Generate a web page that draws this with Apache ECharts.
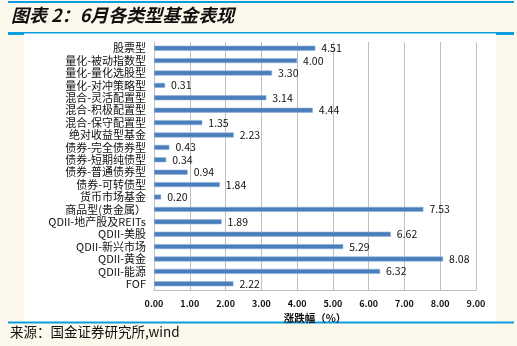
<!DOCTYPE html>
<html>
<head>
<meta charset="utf-8">
<script src="https://cdn.jsdelivr.net/npm/echarts@6/dist/echarts.min.js"></script>
<style>
  html, body { margin: 0; padding: 0; background: #fdf8ec; }
  #chart { width: 517px; height: 346px; }
</style>
</head>
<body>
<div id="chart"></div>
<script>
// Fund categories, listed top to bottom
const categories = [
  '股票型', '量化-被动指数型', '量化-量化选股型', '量化-对冲策略型',
  '混合-灵活配置型', '混合-积极配置型', '混合-保守配置型', '绝对收益型基金',
  '债券-完全债券型', '债券-短期纯债型', '债券-普通债券型', '债券-可转债型',
  '货币市场基金', '商品型(贵金属）', 'QDII-地产股及REITs', 'QDII-美股',
  'QDII-新兴市场', 'QDII-黄金', 'QDII-能源', 'FOF'
];
// June returns (%)
const returns = [
  4.51, 4.00, 3.30, 0.31,
  3.14, 4.44, 1.35, 2.23,
  0.43, 0.34, 0.94, 1.84,
  0.20, 7.53, 1.89, 6.62,
  5.29, 8.08, 6.32, 2.22
];
const xMin = 0, xMax = 9, xStep = 1;

const titleText = '图表 2：6月各类型基金表现';
const sourceText = '来源：国金证券研究所,wind';
const axisTitle = '涨跌幅（%）';

const blue = '#0a9ee0';
const font = '"Noto Sans CJK SC", "Noto Sans", sans-serif';

const chart = echarts.init(document.getElementById('chart'), null, { renderer: 'canvas' });
chart.setOption({
  backgroundColor: '#fdf8ec',
  animation: false,
  graphic: [
    // white panel behind the plot
    { type: 'rect', z: -10, shape: { x: 24, y: 34, width: 472, height: 288 }, style: { fill: '#ffffff' } },
    // header rules
    { type: 'rect', shape: { x: 8, y: 1, width: 506, height: 2 }, style: { fill: blue } },
    { type: 'rect', shape: { x: 8, y: 32, width: 506, height: 1.5 }, style: { fill: blue } },
    { type: 'rect', shape: { x: 8, y: 32, width: 16, height: 3 }, style: { fill: blue } },
    { type: 'rect', shape: { x: 496, y: 32, width: 18, height: 3 }, style: { fill: blue } },
    // footer rule
    { type: 'rect', shape: { x: 8, y: 321.5, width: 506, height: 2 }, style: { fill: blue } },
    {
      type: 'text', left: 11, top: 6,
      style: { text: titleText, font: 'italic bold 18px ' + font, fill: '#111111' }
    },
    {
      type: 'text', left: 10, top: 325,
      style: { text: sourceText, font: '13.5px ' + font, fill: '#111111' }
    }
  ],
  grid: { left: 154, right: 41, top: 42, bottom: 56, containLabel: false },
  xAxis: {
    type: 'value',
    min: xMin, max: xMax, interval: xStep,
    name: axisTitle,
    nameLocation: 'middle',
    nameGap: 22,
    nameTextStyle: { fontFamily: font, fontSize: 10.5, color: '#111', fontWeight: 'bold' },
    axisLine: { show: true, lineStyle: { color: '#bfbfbf' } },
    axisTick: { show: false },
    splitLine: { show: true, lineStyle: { color: '#bfbfbf', width: 1 } },
    axisLabel: {
      fontFamily: font, fontSize: 9, color: '#111', margin: 9, fontWeight: 'bold',
      formatter: v => v.toFixed(2)
    }
  },
  yAxis: {
    type: 'category',
    data: categories,
    inverse: true,
    axisLine: { show: true, lineStyle: { color: '#bfbfbf' } },
    axisTick: { show: false },
    splitLine: { show: false },
    axisLabel: { fontFamily: font, fontSize: 11, lineHeight: 12, color: '#111', margin: 8, interval: 0 }
  },
  series: [{
    type: 'bar',
    data: returns,
    barWidth: 5,
    itemStyle: { color: '#4a7ebb', borderColor: '#8fb0da', borderWidth: 0.6 },
    label: {
      show: true, position: 'right', distance: 6,
      fontFamily: font, fontSize: 10.5, color: '#111',
      formatter: p => p.value.toFixed(2)
    }
  }]
});
</script>
</body>
</html>
